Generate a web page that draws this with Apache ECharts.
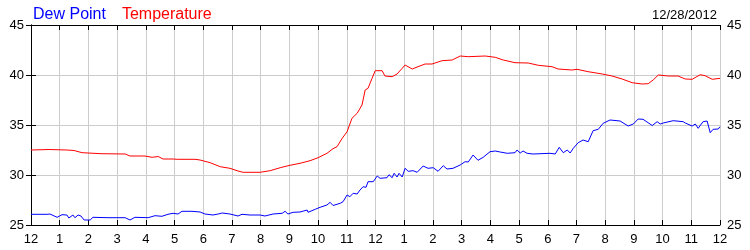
<!DOCTYPE html>
<html>
<head>
<meta charset="utf-8">
<script src="https://cdn.jsdelivr.net/npm/echarts@6/dist/echarts.min.js"></script>
<style>html,body{margin:0;padding:0;background:#fff;}#c{width:750px;height:250px;}</style>
</head>
<body>
<div id="c"></div>
<script>
var xTickLabels = ['12','1','2','3','4','5','6','7','8','9','10','11','12','1','2','3','4','5','6','7','8','9','10','11','12'];
var yTicks = [25, 30, 35, 40, 45];
var dateLabel = '12/28/2012';

var tempHours = [0,0.63,1.25,1.50,1.78,2.44,3.28,3.45,3.97,4.22,4.43,4.60,4.95,5.09,5.71,5.89,6.24,6.59,6.93,7.21,7.39,7.98,8.33,8.68,9.02,9.37,9.72,10.00,10.31,10.52,10.66,10.84,11.01,11.18,11.36,11.53,11.64,11.74,11.88,11.99,12.23,12.33,12.58,12.75,12.93,13.03,13.28,13.48,13.73,13.97,14.32,14.67,14.95,15.23,15.82,16.17,16.45,16.86,17.32,17.67,18.15,18.36,18.85,19.02,19.41,19.90,20.24,20.59,20.94,21.29,21.50,21.67,21.85,22.20,22.54,22.79,23.03,23.31,23.48,23.73,24.0];
var tempValues = [32.5,32.55,32.5,32.45,32.23,32.13,32.1,31.9,31.9,31.77,31.85,31.6,31.6,31.57,31.57,31.5,31.23,30.83,30.67,30.4,30.27,30.27,30.43,30.73,30.97,31.17,31.43,31.73,32.17,32.63,32.83,33.67,34.33,35.67,36.17,37.0,38.5,38.67,39.67,40.43,40.43,39.9,39.83,40.1,40.67,41.0,40.6,40.83,41.1,41.1,41.43,41.5,41.9,41.83,41.9,41.77,41.5,41.23,41.2,40.97,40.83,40.6,40.5,40.57,40.33,40.1,39.9,39.6,39.23,39.1,39.13,39.5,40.0,39.9,39.9,39.6,39.57,40.03,39.93,39.57,39.67];

var dewHours = [0,0.56,0.66,0.91,1.08,1.25,1.32,1.46,1.53,1.64,1.74,1.85,2.06,2.16,2.68,3.28,3.45,3.62,4.08,4.32,4.56,4.77,4.95,5.12,5.26,5.61,5.89,6.06,6.34,6.52,6.66,6.93,7.21,7.35,7.63,7.98,8.15,8.43,8.75,8.85,8.95,9.13,9.37,9.62,9.65,9.90,10.07,10.31,10.42,10.52,10.77,10.87,11.01,11.11,11.22,11.36,11.46,11.57,11.67,11.74,11.92,12.06,12.16,12.40,12.47,12.58,12.65,12.75,12.82,12.93,13.03,13.14,13.31,13.45,13.66,13.83,14.01,14.18,14.36,14.49,14.70,14.95,15.12,15.23,15.40,15.57,15.75,15.99,16.17,16.34,16.59,16.86,16.93,17.04,17.14,17.28,17.49,18.08,18.26,18.40,18.54,18.68,18.78,18.89,19.06,19.23,19.41,19.58,19.76,19.93,20.17,20.52,20.80,20.98,21.15,21.32,21.64,21.81,21.92,22.02,22.37,22.72,22.79,23.03,23.14,23.24,23.41,23.55,23.66,23.76,23.94,24.0];
var dewValues = [26.07,26.07,26.1,25.77,26.03,26.0,25.7,26.0,25.73,26.0,25.9,25.5,25.5,25.77,25.73,25.73,25.5,25.77,25.73,25.93,25.87,26.07,26.17,26.1,26.37,26.37,26.3,26.1,26.0,26.1,26.2,26.1,25.9,26.07,26.0,26.0,25.9,26.1,26.17,26.37,26.1,26.27,26.3,26.5,26.27,26.57,26.77,27.0,27.27,26.95,27.17,27.33,28.0,27.83,28.17,28.1,28.5,28.83,28.77,29.33,29.33,29.9,29.67,29.73,30.03,29.73,30.17,29.8,30.17,29.8,30.67,30.37,30.43,30.27,30.9,30.67,30.73,30.37,30.93,30.6,30.67,31.0,31.33,31.3,32.0,31.47,31.77,32.33,32.4,32.3,32.17,32.23,32.5,32.2,32.4,32.17,32.1,32.17,32.1,32.77,32.23,32.5,32.2,32.67,33.23,33.5,33.33,34.43,34.57,35.17,35.5,35.4,34.9,35.1,35.6,35.57,34.95,35.33,35.1,35.2,35.43,35.33,35.2,34.9,35.1,34.67,35.33,35.4,34.23,34.57,34.6,34.83];

function zip(a, b) { return a.map(function (v, i) { return [v, b[i]]; }); }

var font = 'Liberation Sans, Arial, sans-serif';
var chart = echarts.init(document.getElementById('c'), null, { renderer: 'canvas' });
var yAxisCommon = {
  type: 'value', min: yTicks[0], max: yTicks[yTicks.length - 1], interval: 5,
  axisLine: { show: true, lineStyle: { color: '#000', width: 1 } },
  axisTick: { show: true, inside: true, length: 5, lineStyle: { color: '#000' } },
  axisLabel: { color: '#000', fontSize: 13, fontFamily: font, margin: 7 }
};
chart.setOption({
  animation: false,
  backgroundColor: '#fff',
  grid: { left: 31, right: 30, top: 25, bottom: 25, containLabel: false },
  legend: {
    left: 23, top: 2, icon: 'none', itemWidth: 0, itemGap: 11, selectedMode: false,
    textStyle: { fontSize: 16, fontFamily: font },
    data: [
      { name: 'Dew Point', textStyle: { color: '#0000ff' } },
      { name: 'Temperature', textStyle: { color: '#ff0000' } }
    ]
  },
  title: {
    text: dateLabel, right: 28, top: 4,
    textStyle: { fontSize: 13, fontWeight: 'normal', color: '#000', fontFamily: font }
  },
  xAxis: [{
    type: 'value', min: 0, max: 24, interval: 1, position: 'bottom',
    axisLine: { show: true, onZero: false, lineStyle: { color: '#000', width: 1 } },
    axisTick: { show: true, inside: true, length: 5, lineStyle: { color: '#000' } },
    axisLabel: { color: '#000', fontSize: 13, fontFamily: font, margin: 8,
      formatter: function (v) { return xTickLabels[Math.round(v)]; } },
    splitLine: { show: true, lineStyle: { color: '#cccccc', width: 1 } }
  }, {
    type: 'value', min: 0, max: 24, interval: 1, position: 'top',
    axisLine: { show: true, onZero: false, lineStyle: { color: '#000', width: 1 } },
    axisTick: { show: true, inside: true, length: 5, lineStyle: { color: '#000' } },
    axisLabel: { show: false }, splitLine: { show: false }
  }],
  yAxis: [
    Object.assign({}, yAxisCommon, { position: 'left',
      splitLine: { show: true, lineStyle: { color: '#cccccc', width: 1 } } }),
    Object.assign({}, yAxisCommon, { position: 'right', splitLine: { show: false } })
  ],
  series: [
    { name: 'Dew Point', type: 'line', showSymbol: false, data: zip(dewHours, dewValues),
      lineStyle: { color: '#0000ff', width: 1 }, itemStyle: { color: '#0000ff' }, z: 3 },
    { name: 'Temperature', type: 'line', showSymbol: false, data: zip(tempHours, tempValues),
      lineStyle: { color: '#ff0000', width: 1 }, itemStyle: { color: '#ff0000' }, z: 3 }
  ]
});
</script>
</body>
</html>
